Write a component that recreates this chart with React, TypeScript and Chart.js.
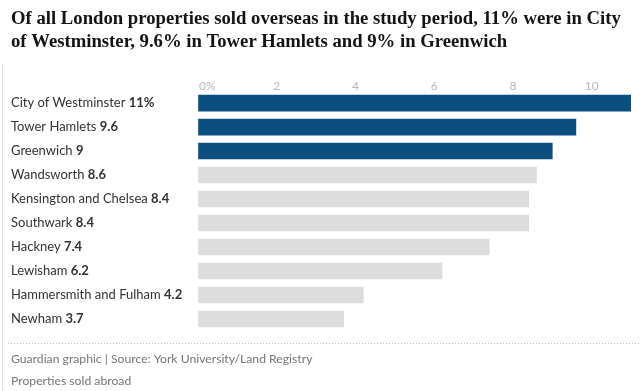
import React, { useEffect, useRef } from "react";
import { Chart, registerables } from "chart.js";

Chart.register(...registerables);

const titleLines = [
  "Of all London properties sold overseas in the study period, 11% were in City",
  "of Westminster, 9.6% in Tower Hamlets and 9% in Greenwich",
];
const boroughs = [
  "City of Westminster",
  "Tower Hamlets",
  "Greenwich",
  "Wandsworth",
  "Kensington and Chelsea",
  "Southwark",
  "Hackney",
  "Lewisham",
  "Hammersmith and Fulham",
  "Newham",
];
const shares = [11, 9.6, 9, 8.6, 8.4, 8.4, 7.4, 6.2, 4.2, 3.7];
const highlighted = [true, true, true, false, false, false, false, false, false, false];
const xTicks = [0, 2, 4, 6, 8, 10];
const footerLines = [
  "Guardian graphic | Source: York University/Land Registry",
  "Properties sold abroad",
];

const BLUE = "#0b4f7f";
const GREY = "#dcdcdc";
const LABEL_FONT = "Lato";

export default function App() {
  const ref = useRef<HTMLCanvasElement | null>(null);

  useEffect(() => {
    document.body.style.margin = "0";
    const canvas = ref.current;
    if (!canvas) return;

    const decor = {
      id: "decor",
      afterDraw(chart: any) {
        const ctx = chart.ctx;
        const y = chart.scales.y;
        ctx.save();
        ctx.textBaseline = "middle";
        ctx.textAlign = "left";
        y.ticks.forEach((t: any, i: number) => {
          const py = y.getPixelForTick(i);
          ctx.font = `13px ${LABEL_FONT}`;
          const name = boroughs[t.value] + " ";
          const w = ctx.measureText(name).width;
          ctx.font = `bold 13px ${LABEL_FONT}`;
          ctx.fillStyle = "#333333";
          const v = shares[t.value];
          ctx.fillText(t.value === 0 ? v + "%" : String(v), y.left + w, py);
        });
        // left border
        ctx.strokeStyle = "#e2e2e2";
        ctx.lineWidth = 1;
        ctx.beginPath();
        ctx.moveTo(2.5, 64);
        ctx.lineTo(2.5, 391);
        ctx.stroke();
        // dotted separator
        ctx.strokeStyle = "#bdbdbd";
        ctx.setLineDash([1, 2]);
        ctx.beginPath();
        ctx.moveTo(8, 343.5);
        ctx.lineTo(640, 343.5);
        ctx.stroke();
        ctx.setLineDash([]);
        // footer
        ctx.fillStyle = "#767676";
        ctx.font = `12.2px ${LABEL_FONT}`;
        ctx.fillText(footerLines[0], 11, 359);
        ctx.fillText(footerLines[1], 11, 381);
        ctx.restore();
      },
    };

    const chart = new Chart(canvas, {
      type: "bar",
      data: {
        labels: boroughs.map((_, i) => i),
        datasets: [
          {
            data: shares,
            backgroundColor: highlighted.map((h) => (h ? BLUE : GREY)),
            barThickness: 16,
            categoryPercentage: 1,
          },
        ],
      },
      options: {
        indexAxis: "y",
        animation: false,
        responsive: false,
        maintainAspectRatio: false,
        layout: { padding: { left: 11, right: 12, top: 0, bottom: 60 } },
        plugins: {
          legend: { display: false },
          tooltip: { enabled: false },
          title: {
            display: true,
            text: titleLines,
            align: "start",
            color: "#141414",
            font: { family: "Liberation Serif", weight: "bold", size: 18.7, lineHeight: 1.21 },
            padding: { top: 8.2, bottom: 17.6 },
          },
        },
        scales: {
          x: {
            position: "top",
            min: 0,
            max: 11,
            z: 1,
            border: { display: false },
            grid: {
              color: "rgba(255,255,255,0.55)",
              drawTicks: false,
            },
            afterBuildTicks: (scale: any) => {
              scale.ticks = xTicks.map((v) => ({ value: v }));
            },
            afterFit: (scale: any) => {
              scale.height = 20;
            },
            ticks: {
              color: "#b8b8b8",
              font: { family: LABEL_FONT, size: 12, lineHeight: 1 },
              padding: -1,
              callback: (v: any) => (v === 0 ? "      0%" : String(v)),
            },
          },
          y: {
            border: { display: false },
            grid: { display: false, drawTicks: false },
            afterFit: (scale: any) => {
              scale.width = 187;
            },
            ticks: {
              crossAlign: "far",
              color: "#333333",
              font: { family: LABEL_FONT, size: 13 },
              callback: (v: any) => boroughs[v],
            },
          },
        },
      },
      plugins: [decor],
    });
    return () => chart.destroy();
  }, []);

  return (
    <div style={{ width: 643, height: 391, background: "#fff" }}>
      <canvas ref={ref} width={643} height={391} style={{ display: "block" }} />
    </div>
  );
}
